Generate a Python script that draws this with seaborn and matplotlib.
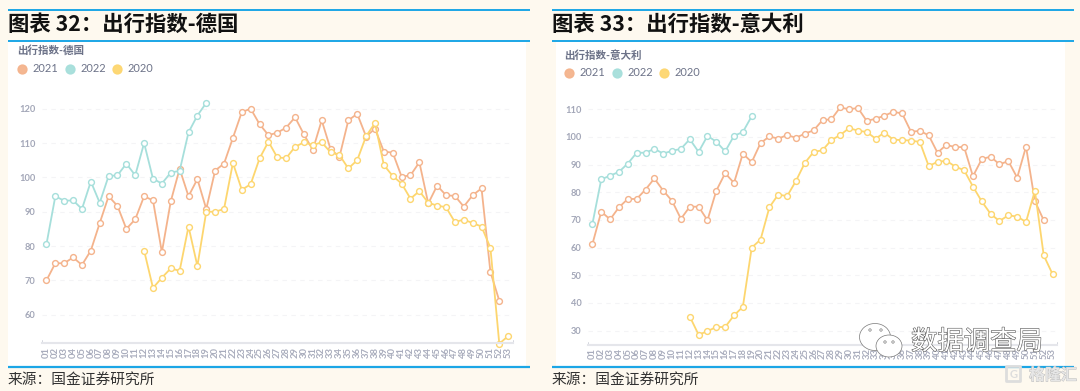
#!/usr/bin/env python3

import pandas as pd
from matplotlib import pyplot as plt
from matplotlib.lines import Line2D
from matplotlib.patches import Ellipse, Rectangle, FancyBboxPatch
import matplotlib.patheffects as pe
import seaborn as sns

weeks = list(range(1, 54))
week_labels = [f"{w:02d}" for w in weeks]

# germany
de_2021 = [70, 75, 75, 76.7, 74.5, 78.7, 86.7, 94.5, 91.7, 85, 87.8, 94.5, 93.3, 78.2, 93,
           102.5, 94.5, 99.5, 90.8, 102, 104, 111.5, 119, 120, 115.5, 112.3, 113, 114.5, 117.5, 112.5,
           108, 116.6, 108.2, 106, 116.6, 118.5, 111.9, 114.2, 107.5, 107.2, 100.2, 100.6, 104.4, 92.4, 97.6,
           94.8, 94.6, 91.5, 94.8, 96.8, 72.5, 64.1]
de_2022 = [80.5, 94.5, 93.2, 93.3, 90.8, 98.8, 92.6, 100.4, 100.6, 104, 100.6, 110, 99.6, 98.2, 101.4,
           101.9, 113.1, 118, 121.7]
de_2020 = [78.7, 67.8, 70.8, 73.5, 72.8, 85.7, 74.2, 90, 90, 90.8, 104.2, 96.4, 98, 105.5, 110.4,
           105.8, 105.6, 108.9, 110.2, 109.4, 110.2, 107.3, 106.5, 102.6, 105, 112, 115.8, 103.6, 100.4, 98.2,
           93.8, 96, 92.6, 91.8, 91.3, 87, 87.7, 86.7, 85.7, 79.5, 51.6, 53.8]

# italy
it_2021 = [61.3, 73, 70.2, 74.6, 77.6, 77.6, 81, 85, 80.6, 76.9, 70.4, 74.8, 74.8, 69.9, 80.6,
           86.9, 83.4, 94, 90.9, 97.8, 100.2, 99.4, 100.7, 99.7, 101.2, 102.4, 106.1, 106.4, 110.7, 110,
           110.5, 105.8, 106.6, 107.7, 109.1, 108.5, 101.9, 102.2, 100.6, 94.3, 97.2, 96.3, 96.4, 85.8, 92,
           92.9, 90.1, 91.3, 85.3, 96.5, 76.8, 69.9]
it_2022 = [68.6, 84.7, 86, 87.4, 90.4, 94.3, 94.3, 95.7, 94, 95, 95.7, 99.2, 94.6, 100.4, 98.3,
           94.8, 100.4, 101.8, 107.5]
it_2020 = [35.1, 28.5, 29.8, 31.3, 31.3, 35.5, 38.6, 60, 62.9, 74.6, 79.2, 78.6, 84.1, 90.6, 94.6,
           95.2, 98.9, 100.7, 103.2, 102.3, 101.8, 99.4, 101.6, 99, 98.9, 98.7, 98.2, 89.5, 91, 91.4,
           89.3, 88, 82.1, 76.7, 72.2, 69.6, 71.7, 71.2, 69.3, 80.6, 57.2, 50.4]

start_2020 = 12
series_names = ["2021", "2022", "2020"]
series_colors = ["#F4B38C", "#A6DFDB", "#FDD66F"]

W, H = 1080, 391
sns.set_style("white")
plt.rcParams['font.family'] = ['Lato', 'Noto Sans CJK SC', 'DejaVu Sans']

fig = plt.figure(figsize=(W / 100, H / 100), dpi=100, facecolor='#FEF9EF')

# background layer in pixel coordinates
bg = fig.add_axes([0, 0, 1, 1], zorder=0)
bg.set_xlim(0, W)
bg.set_ylim(H, 0)
bg.axis('off')

top = fig.add_axes([0, 0, 1, 1], zorder=5)
top.set_xlim(0, W)
top.set_ylim(H, 0)
top.axis('off')

BLUE = '#1BA6E6'


def draw_frame(x0, x1, px0, px1, title, source):
    bg.add_patch(Rectangle((px0, 41), px1 - px0, 326, facecolor='white', edgecolor='none'))
    for y, lw in [(9.5, 1.4), (40.5, 1.4), (367, 1.6)]:
        bg.plot([x0, x1], [y, y], color=BLUE, lw=lw, solid_capstyle='butt')
    bg.text(x0, 24, title, family=['Noto Sans CJK SC', 'DejaVu Sans'], fontweight='bold',
            fontsize=15.4, color='#111111', va='center', ha='left')
    bg.text(x0, 379.5, source, family=['Noto Sans CJK SC', 'DejaVu Sans'],
            fontsize=10.6, color='#333333', va='center', ha='left')


def draw_chart(box, ylim, yticks, name, y2021, y2022, y2020, legend_at):
    px0, py0, px1, py1 = box
    ax = fig.add_axes([px0 / W, 1 - py1 / H, (px1 - px0) / W, (py1 - py0) / H], zorder=2)
    ax.patch.set_alpha(0)

    for label, color, xs, ys in zip(series_names, series_colors,
                                    [weeks[:len(y2021)], weeks[:len(y2022)], weeks[start_2020 - 1:]],
                                    [y2021, y2022, y2020]):
        df = pd.DataFrame({'week': xs, 'value': ys})
        sns.lineplot(data=df, x='week', y='value', ax=ax, color=color, lw=1.3, marker='o',
                     markersize=4.2, markerfacecolor='white', markeredgecolor=color,
                     markeredgewidth=1.0, clip_on=False, label=label, legend=False)

    ax.set_xlim(0.5, 53.5)
    ax.set_ylim(*ylim)
    ax.set_xticks(weeks)
    ax.set_xticklabels(week_labels, rotation=90, fontsize=6.8, color='#A9ADBD', fontweight='bold')
    ax.set_yticks(yticks)
    ax.set_yticklabels([str(v) for v in yticks], fontsize=6.7, color='#A3A7B8', fontweight='bold')
    ax.tick_params(axis='x', length=0, pad=2.5)
    ax.tick_params(axis='y', length=0, pad=4.5)
    ax.set_xlabel("")
    ax.set_ylabel("")
    ax.grid(axis='y', color='#F4F4F6', lw=0.8, ls=(0, (4, 4)))
    ax.set_axisbelow(True)
    for s in ['top', 'right', 'left']:
        ax.spines[s].set_visible(False)
    ax.spines['bottom'].set_color('#E5E6EB')
    ax.spines['bottom'].set_linewidth(1.5)

    # end ticks of the category axis
    for xp in (px0, px1):
        bg.plot([xp, xp], [py1 - 3, py1], color='#D5D7DF', lw=0.7, zorder=3)

    tx, ty, ly = legend_at
    bg.text(tx, ty, name, fontsize=7.6, color='#6C7288', fontweight='bold', va='center', ha='left')
    handles = [Line2D([], [], ls='', marker='o', ms=6.4, color=c, alpha=0.95) for c in series_colors]
    fig.legend(handles, series_names, loc='center left',
               bbox_to_anchor=((tx - 1.5) / W, 1 - ly / H), ncol=3, frameon=False, fontsize=7.9,
               labelcolor='#6C7288', handletextpad=0.4, columnspacing=0.5, handlelength=1.1,
               borderpad=0, borderaxespad=0)
    return ax


draw_frame(8, 530, 8, 526, "图表 32：出行指数-德国", "来源：国金证券研究所")
draw_frame(552, 1074, 556, 1065, "图表 33：出行指数-意大利", "来源：国金证券研究所")

draw_chart((42, 91.5, 512.6, 343.3), (51.7, 125), [60, 70, 80, 90, 100, 110, 120],
           "出行指数-德国", de_2021, de_2022, de_2020, (17.5, 50, 69))
draw_chart((588, 95.5, 1057, 345), (24.8, 115), [30, 40, 50, 60, 70, 80, 90, 100, 110],
           "出行指数-意大利", it_2021, it_2022, it_2020, (564.5, 55, 73))

# wechat watermark
for cx, cy, w, h in [(875, 337, 31, 27), (889, 346, 26, 22)]:
    top.add_patch(Ellipse((cx, cy), w, h, facecolor='white', edgecolor='#777777', lw=0.5))
for ex, ey in [(870, 330), (881, 330), (885, 342), (893, 342)]:
    top.add_patch(Ellipse((ex, ey), 2.4, 2.4, facecolor='white', edgecolor='#777777', lw=0.5))
top.text(911, 342, "数据调查局", family=['Noto Sans CJK SC', 'DejaVu Sans'], fontsize=19, color='white',
         va='center', ha='left', path_effects=[pe.withStroke(linewidth=0.8, foreground='#555555')])

# gelonghui watermark
top.add_patch(FancyBboxPatch((1007, 367), 13, 14, boxstyle='round,pad=0.5', facecolor='none',
                             edgecolor='#DDDDDD', lw=2))
top.text(1014, 374, "G", fontsize=8, color='#DDDDDD', fontweight='bold', va='center', ha='center')
top.text(1029, 375, "格隆汇", family=['Noto Sans CJK SC', 'DejaVu Sans'], fontsize=11.5, color='#E6E6E6',
         va='center', ha='left', fontweight='bold',
         path_effects=[pe.withStroke(linewidth=0.6, foreground='#BBBBBB')])

plt.savefig("out.png", dpi=100, facecolor=fig.get_facecolor())
